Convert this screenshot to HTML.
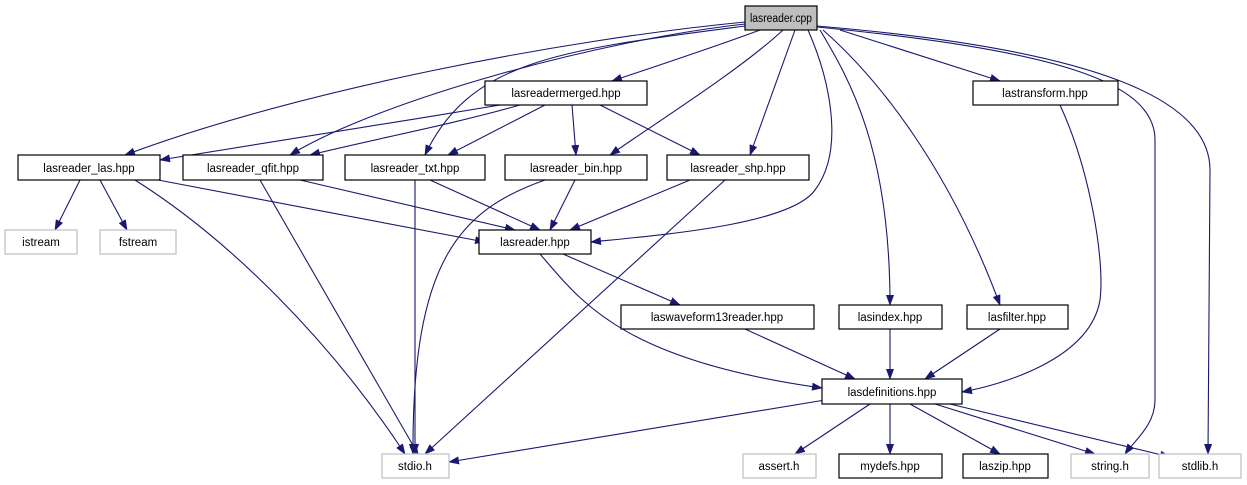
<!DOCTYPE html>
<html><head><meta charset="utf-8"><style>
html,body{margin:0;padding:0;background:#fff;}
svg{display:block;}
text{font-family:"Liberation Sans",sans-serif;font-size:11.5px;fill:#000;}
</style></head><body>
<svg width="1247" height="485" viewBox="0 0 1247 485" xmlns="http://www.w3.org/2000/svg">
<defs>
<marker id="a" markerUnits="userSpaceOnUse" markerWidth="11" markerHeight="8" refX="10" refY="4" orient="auto">
<path d="M0,0 L11,4 L0,8 z" fill="#191970"/>
</marker>
</defs>
<g fill="none" stroke="#191970" stroke-width="1.1" marker-end="url(#a)">
<path d="M760,30 C720,45 660,65 612,81"/>
<path d="M745,22 C560,40 300,90 125,155"/>
<path d="M745,24 C600,40 380,100 290,155"/>
<path d="M745,26 C560,50 470,60 425,155"/>
<path d="M783,30 C740,70 660,120 610,155"/>
<path d="M795,30 L750,155"/>
<path d="M808,30 C830,80 845,150 815,190 C790,225 660,235 591,242"/>
<path d="M820,30 C850,80 890,150 890,305"/>
<path d="M823,30 C880,80 950,170 1000,305"/>
<path d="M840,30 L1000,81"/>
<path d="M817,27 C1050,50 1155,80 1155,140 L1155,400 C1155,425 1135,440 1125,454"/>
<path d="M817,26 C1100,50 1210,100 1210,170 L1208,454"/>
<path d="M500,105 C380,125 250,145 160,160"/>
<path d="M520,105 C450,125 370,140 310,155"/>
<path d="M545,105 L448,155"/>
<path d="M572,105 L576,155"/>
<path d="M600,105 L700,155"/>
<path d="M1060,105 C1090,170 1105,260 1100,300 C1090,360 1000,385 962,392"/>
<path d="M80,180 L55,230"/>
<path d="M100,180 L127,230"/>
<path d="M135,180 C230,240 330,340 405,454"/>
<path d="M158,180 L485,242"/>
<path d="M260,180 L418,454"/>
<path d="M300,180 L515,230"/>
<path d="M415,180 L415,454"/>
<path d="M430,180 L540,230"/>
<path d="M545,180 C460,210 412,260 413,454"/>
<path d="M575,180 L550,230"/>
<path d="M690,180 L570,230"/>
<path d="M725,180 L425,454"/>
<path d="M563,254 L680,305"/>
<path d="M540,254 C580,300 620,360 822,388"/>
<path d="M745,329 L855,379"/>
<path d="M890,329 L890,379"/>
<path d="M1000,329 L925,379"/>
<path d="M825,400 L449,462"/>
<path d="M870,404 L795,454"/>
<path d="M890,404 L890,454"/>
<path d="M910,404 L1000,454"/>
<path d="M935,404 L1095,454"/>
<path d="M950,404 L1170,457"/>
</g>
<g stroke-width="1.2" text-anchor="middle">
<rect x="745" y="6" width="72" height="24" fill="#bfbfbf" stroke="#000"/><text x="781" y="22" textLength="62" lengthAdjust="spacingAndGlyphs">lasreader.cpp</text>
<rect x="485" y="81" width="162" height="24" fill="#fff" stroke="#000"/><text x="566" y="97">lasreadermerged.hpp</text>
<rect x="973" y="81" width="145" height="24" fill="#fff" stroke="#000"/><text x="1045" y="97">lastransform.hpp</text>
<rect x="18" y="155" width="142" height="25" fill="#fff" stroke="#000"/><text x="89" y="172">lasreader_las.hpp</text>
<rect x="183" y="155" width="140" height="25" fill="#fff" stroke="#000"/><text x="253" y="172">lasreader_qfit.hpp</text>
<rect x="345" y="155" width="140" height="25" fill="#fff" stroke="#000"/><text x="415" y="172">lasreader_txt.hpp</text>
<rect x="505" y="155" width="142" height="25" fill="#fff" stroke="#000"/><text x="576" y="172">lasreader_bin.hpp</text>
<rect x="667" y="155" width="142" height="25" fill="#fff" stroke="#000"/><text x="738" y="172">lasreader_shp.hpp</text>
<rect x="5" y="230" width="72" height="24" fill="#fff" stroke="#bfbfbf"/><text x="41" y="246">istream</text>
<rect x="100" y="230" width="76" height="24" fill="#fff" stroke="#bfbfbf"/><text x="138" y="246">fstream</text>
<rect x="479" y="230" width="112" height="24" fill="#fff" stroke="#000"/><text x="535" y="246">lasreader.hpp</text>
<rect x="621" y="305" width="193" height="24" fill="#fff" stroke="#000"/><text x="717" y="321">laswaveform13reader.hpp</text>
<rect x="839" y="305" width="103" height="24" fill="#fff" stroke="#000"/><text x="890" y="321">lasindex.hpp</text>
<rect x="967" y="305" width="101" height="24" fill="#fff" stroke="#000"/><text x="1017" y="321">lasfilter.hpp</text>
<rect x="822" y="379" width="140" height="25" fill="#fff" stroke="#000"/><text x="892" y="396">lasdefinitions.hpp</text>
<rect x="382" y="454" width="67" height="24" fill="#fff" stroke="#bfbfbf"/><text x="415" y="470">stdio.h</text>
<rect x="743" y="454" width="73" height="24" fill="#fff" stroke="#bfbfbf"/><text x="779" y="470">assert.h</text>
<rect x="839" y="454" width="103" height="24" fill="#fff" stroke="#000"/><text x="890" y="470">mydefs.hpp</text>
<rect x="963" y="454" width="85" height="24" fill="#fff" stroke="#000"/><text x="1005" y="470">laszip.hpp</text>
<rect x="1071" y="454" width="78" height="24" fill="#fff" stroke="#bfbfbf"/><text x="1110" y="470">string.h</text>
<rect x="1159" y="454" width="82" height="24" fill="#fff" stroke="#bfbfbf"/><text x="1200" y="470">stdlib.h</text>
</g>
</svg>
</body></html>
